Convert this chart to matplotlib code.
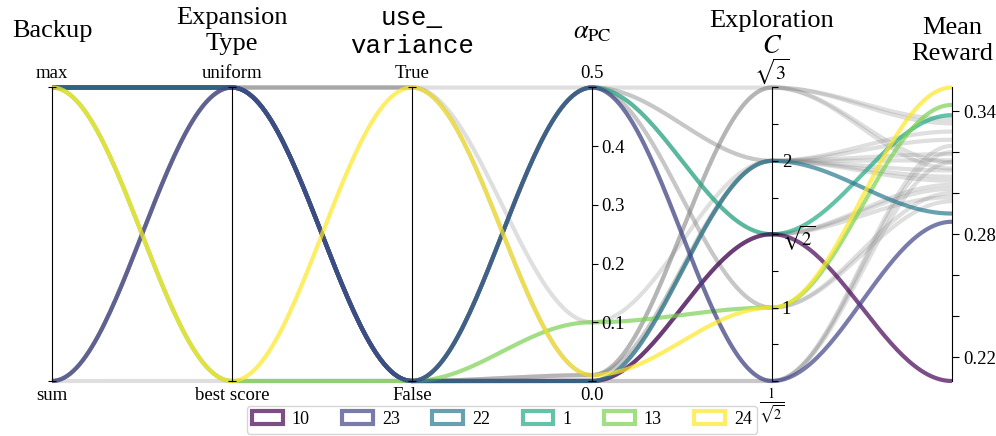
import numpy as np
import matplotlib
matplotlib.use("Agg")
import matplotlib.pyplot as plt
from matplotlib.patches import Patch

plt.rcParams['font.family'] = 'serif'
plt.rcParams['font.serif'] = ['Liberation Serif', 'DejaVu Serif']
plt.rcParams['mathtext.fontset'] = 'stix'

# one entry per run (run id = list index)
backup = ['max', 'max', 'max', 'max', 'max', 'max', 'max', 'max', 'sum', 'max',
          'max', 'sum', 'max', 'max', 'max', 'sum', 'max', 'sum', 'max', 'sum',
          'max', 'max', 'max', 'sum', 'max']
expansion = ['uniform', 'uniform', 'uniform', 'uniform', 'uniform', 'best score', 'uniform', 'uniform', 'uniform', 'uniform',
             'uniform', 'uniform', 'uniform', 'best score', 'uniform', 'uniform', 'uniform', 'uniform', 'uniform', 'best score',
             'uniform', 'uniform', 'uniform', 'uniform', 'best score']
use_variance = [True, False, True, True, True, False, False, False, False, False,
                False, False, False, False, False, False, False, False, False, False,
                False, False, False, False, True]
alpha_pc = [0.5, 0.5, 0.1, 0.01, 0.01, 0.01, 0.5, 0.5, 0.5, 0.5,
            0.0, 0.5, 0.5, 0.1, 0.0, 0.0, 0.0, 0.0, 0.0, 0.01,
            0.01, 0.0, 0.0, 0.5, 0.01]
exploration_c = ['sqrt3', 'sqrt2', '2', 'sqrt3', '2', 'sqrt3', '2', '2', '1', '1',
                 'sqrt2', 'sqrt2', 'inv_sqrt2', '1', 'inv_sqrt2', 'inv_sqrt2', '2', 'sqrt2', 'sqrt2', '2',
                 'sqrt3', '2', '2', 'inv_sqrt2', '1']
mean_reward = [0.334, 0.338, 0.326, 0.315, 0.330, 0.312, 0.316, 0.319, 0.300, 0.296,
               0.2083, 0.302, 0.320, 0.343, 0.315, 0.323, 0.308, 0.298, 0.304, 0.311,
               0.336, 0.306, 0.290, 0.286, 0.3515]

highlight = [10, 23, 22, 1, 13, 24]   # sorted by mean reward

backup_levels = ['sum', 'max']
expansion_levels = ['best score', 'uniform']
variance_levels = [False, True]
variance_labels = ['False', 'True']
c_levels = ['inv_sqrt2', '1', 'sqrt2', '2', 'sqrt3']
c_labels = [r'$\frac{1}{\sqrt{2}}$', '1', r'$\sqrt{2}$', '2', r'$\sqrt{3}$']
reward_ticks = [0.22, 0.24, 0.26, 0.28, 0.30, 0.32, 0.34]
reward_labels = ['0.22', '', '', '0.28', '', '', '0.34']

titles = ['Backup', 'Expansion\nType', 'use_\nvariance', r'$\alpha_{\mathrm{PC}}$',
          'Exploration\n$C$', 'Mean\nReward']

n_runs = len(mean_reward)
r_lo, r_hi = min(mean_reward), max(mean_reward)

# normalised coordinates for every run on every axis
cols = np.zeros((n_runs, 6))
for k in range(n_runs):
    cols[k, 0] = backup_levels.index(backup[k])
    cols[k, 1] = expansion_levels.index(expansion[k])
    cols[k, 2] = variance_levels.index(use_variance[k])
    cols[k, 3] = alpha_pc[k] / 0.5
    cols[k, 4] = c_levels.index(exploration_c[k]) / 4
    cols[k, 5] = (mean_reward[k] - r_lo) / (r_hi - r_lo)


def smooth_path(ys, n=60):
    xs_out, ys_out = [], []
    t = np.linspace(0, 1, n)
    s = (1 - np.cos(np.pi * t)) / 2
    for i in range(len(ys) - 1):
        xs_out.append(i + t)
        ys_out.append(ys[i] + (ys[i + 1] - ys[i]) * s)
    return np.concatenate(xs_out), np.concatenate(ys_out)


fig = plt.figure(figsize=(9.96, 4.36), dpi=100)
W, H = 996, 436
left, right = 52 / W, 952 / W
top, bottom = 1 - 87.5 / H, 1 - 381 / H
host = fig.add_axes([left, bottom, right - left, top - bottom])
host.set_xlim(0, 5)
host.set_ylim(0, 1)
host.axis('off')

for k in range(n_runs):
    if k in highlight:
        continue
    x, y = smooth_path(cols[k])
    host.plot(x, y, color='gray', alpha=0.25, lw=3, clip_on=False, solid_capstyle='butt')

cmap = plt.get_cmap('viridis')
colors = {rid: cmap(i / (len(highlight) - 1)) for i, rid in enumerate(highlight)}
for rid in sorted(highlight):
    x, y = smooth_path(cols[rid])
    host.plot(x, y, color=colors[rid], alpha=0.7, lw=3, clip_on=False, solid_capstyle='butt')

# one thin axes per dimension
for i in range(6):
    xf = left + i / 5 * (right - left)
    ax = fig.add_axes([xf, bottom, 1e-6, top - bottom])
    ax.patch.set_visible(False)
    for sp in ['top', 'bottom', 'right']:
        ax.spines[sp].set_visible(False)
    ax.spines['left'].set_linewidth(0.8)
    ax.xaxis.set_visible(False)
    ax.yaxis.set_ticks_position('right')
    ax.tick_params(axis='y', which='both', direction='out', length=4, width=0.8,
                   labelsize=13.5, pad=3)

    top_lab, bot_lab = None, None
    math_lab = False
    if i < 3:
        ax.set_ylim(0, 1)
        ax.set_yticks([])
        ax.set_yticks([0, 1], minor=True)
        ax.tick_params(axis='y', which='minor', direction='inout', length=6)
        lv = [backup_levels, expansion_levels, variance_labels][i]
        bot_lab, top_lab = lv[0], lv[1]
    elif i == 3:
        ax.set_ylim(0, 0.5)
        ax.set_yticks([0.1, 0.2, 0.3, 0.4])
        ax.set_yticklabels(['0.1', '0.2', '0.3', '0.4'])
        ax.set_yticks([0, 0.5], minor=True)
        ax.tick_params(axis='y', which='minor', direction='inout', length=6)
        bot_lab, top_lab = '0.0', '0.5'
    elif i == 4:
        ax.set_ylim(0, 4)
        ax.set_yticks([1, 2, 3])
        ax.set_yticklabels(c_labels[1:4])
        ax.set_yticks([0, 0.5, 1.5, 2.5, 3.5, 4], minor=True)
        bot_lab, top_lab = c_labels[0], c_labels[4]
        math_lab = True
    else:
        ax.set_ylim(r_lo, r_hi)
        ax.set_yticks(reward_ticks)
        ax.set_yticklabels(reward_labels)
        ax.tick_params(axis='y', length=5)

    if top_lab is not None:
        fs = 14.5 if math_lab else 13.5
        ax.annotate(top_lab, xy=(0.5, 1), xycoords='axes fraction',
                    xytext=(0, 1 if math_lab else 4),
                    textcoords='offset points', ha='center', va='bottom', fontsize=fs)
        ax.annotate(bot_lab, xy=(0.5, 0), xycoords='axes fraction', xytext=(0, -4),
                    textcoords='offset points', ha='center', va='top', fontsize=fs)

title_y = [31, 31, 32, 33, 34, 41]
for i, t in enumerate(titles):
    xf = left + i / 5 * (right - left)
    kw = dict(ha='center', va='center', fontsize=19, multialignment='center')
    if i == 2:
        kw['family'] = 'Liberation Mono'
        kw['fontsize'] = 18.5
    fig.text(xf, 1 - title_y[i] / H, t, **kw)

handles = [Patch(facecolor='white', edgecolor=colors[rid], linewidth=3, alpha=0.7)
           for rid in highlight]
fig.legend(handles, [str(rid) for rid in highlight], loc='lower center',
           bbox_to_anchor=(0.5 * (left + right), -0.015), ncol=6, fontsize=13,
           handlelength=1.7, handleheight=0.75, handletextpad=0.5, columnspacing=1.8,
           borderpad=0.3)

fig.savefig('out.png', dpi=100)
